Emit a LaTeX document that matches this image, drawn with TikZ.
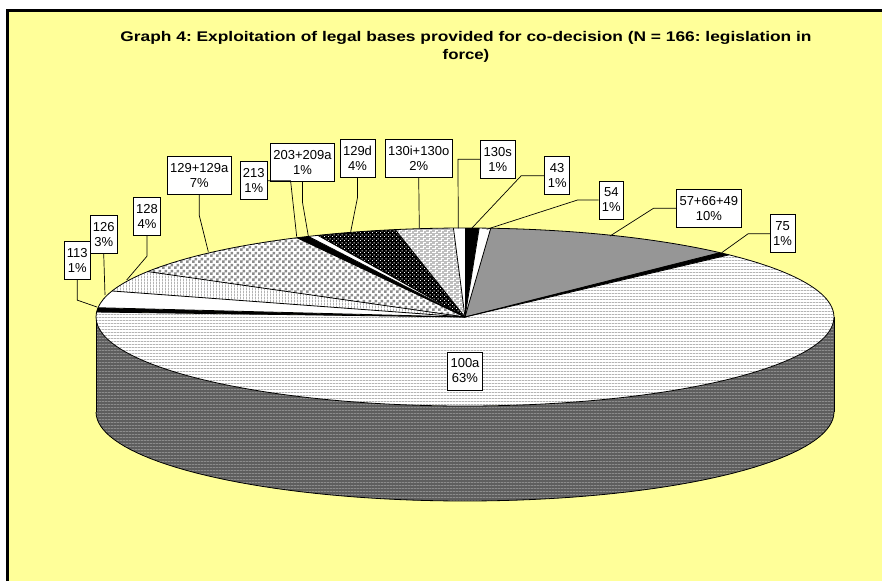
\documentclass[tikz,border=0pt]{standalone}
\usepackage{fontspec}
\setmainfont{Liberation Sans}
\usetikzlibrary{patterns}
\frenchspacing
\pgfdeclarepatternformonly{hstr}{\pgfpointorigin}{\pgfpoint{3pt}{3pt}}{\pgfpoint{3pt}{3pt}}{\pgfpathrectangle{\pgfpointorigin}{\pgfpoint{3pt}{1.2pt}}\pgfusepath{fill}}
\pgfdeclarepatternformonly{vstr}{\pgfpointorigin}{\pgfpoint{3pt}{3pt}}{\pgfpoint{3pt}{3pt}}{\pgfpathrectangle{\pgfpointorigin}{\pgfpoint{1.2pt}{3pt}}\pgfusepath{fill}}
\pgfdeclarepatternformonly{chk}{\pgfpointorigin}{\pgfpoint{6pt}{6pt}}{\pgfpoint{6pt}{6pt}}{\pgfpathrectangle{\pgfpointorigin}{\pgfpoint{3pt}{3pt}}\pgfpathrectangle{\pgfpoint{3pt}{3pt}}{\pgfpoint{3pt}{3pt}}\pgfusepath{fill}}
\pgfdeclarepatternformonly{dts}{\pgfpointorigin}{\pgfpoint{4pt}{4pt}}{\pgfpoint{4pt}{4pt}}{\pgfpathrectangle{\pgfpointorigin}{\pgfpoint{1.2pt}{1.2pt}}\pgfpathrectangle{\pgfpoint{2pt}{2pt}}{\pgfpoint{1.2pt}{1.2pt}}\pgfusepath{fill}}
\pgfdeclarepatternformonly{wave}{\pgfpoint{-1pt}{-1pt}}{\pgfpoint{7pt}{5pt}}{\pgfpoint{6pt}{4pt}}{\pgfsetlinewidth{0.8pt}\pgfpathmoveto{\pgfpoint{0pt}{1pt}}\pgfpathlineto{\pgfpoint{3pt}{1pt}}\pgfpathlineto{\pgfpoint{3pt}{3pt}}\pgfpathlineto{\pgfpoint{6pt}{3pt}}\pgfusepath{stroke}}
\definecolor{bgyellow}{HTML}{FFFF99}
\definecolor{slgray}{HTML}{969696}
\definecolor{sidebase}{HTML}{5E5E5E}
\definecolor{sidestr}{HTML}{8C8C8C}
\definecolor{topstr}{HTML}{B4B4B4}
\definecolor{chkgray}{HTML}{8C8C8C}
\definecolor{brickgray}{HTML}{BEBEBE}
\newcommand{\pslice}[3]{\path[#3] (465,317) -- plot[domain=#1:#2,samples=60,variable=\t] ({465+369*cos(\t)},{317+89*sin(\t)}) -- cycle;}
\begin{document}
\begin{tikzpicture}[x=1pt,y=-1pt,
  blk/.style={fill=black},
  wht/.style={fill=white},
  gry/.style={fill=slgray},
  hst/.style={fill=white, postaction={pattern=hstr, pattern color=topstr}},
  vst/.style={fill=white, postaction={pattern=vstr, pattern color=topstr}},
  chks/.style={fill=white, postaction={pattern=chk, pattern color=chkgray}},
  dots/.style={fill=black, postaction={pattern=dts, pattern color=white}},
  brick/.style={fill=brickgray, postaction={pattern=wave, pattern color=white}},
  edge/.style={draw=black, line width=0.8pt},
  ldr/.style={draw=black, line width=0.7pt},
  lbl/.style={draw=black, line width=0.7pt, fill=white, align=center,
    font=\fontsize{13}{15}\selectfont, inner xsep=3pt, inner ysep=0pt, minimum height=38pt}]
\useasboundingbox (0,0) rectangle (882,581);
\fill[white] (0,0) rectangle (882,581);
\fill[bgyellow] (6,9) rectangle (882,581);
\draw[line width=3pt] (7.5,581) -- (7.5,10.5) -- (882,10.5);
% title
\node[font=\bfseries\fontsize{14}{18}\selectfont, align=center] (title) at (466,47)
  {\scalebox{1.24}[1]{Graph 4: Exploitation of legal bases provided for co-decision (N = 166: legislation in}\\\scalebox{1.2}[1]{force)}};
% side wall
\path[fill=sidebase, postaction={pattern=hstr, pattern color=sidestr}]
  plot[domain=0:180,samples=80,variable=\t] ({465+369*cos(\t)},{317+89*sin(\t)})
  -- plot[domain=180:0,samples=80,variable=\t] ({465+369*cos(\t)},{412+89*sin(\t)}) -- cycle;
\draw[edge] plot[domain=0:180,samples=80,variable=\t] ({465+369*cos(\t)},{412+89*sin(\t)});
\draw[edge] (834,317) -- (834,412);
\draw[edge] (96,317) -- (96,412);
% slices
\pslice{-90}{-87.8}{blk}
\pslice{-87.8}{-86}{wht}
\pslice{-86}{-46.3}{gry}
\pslice{-46.3}{-44.3}{blk}
\pslice{-44.3}{183.2}{hst}
\pslice{183.2}{186}{blk}
\pslice{186}{197}{wht}
\pslice{197}{210.7}{vst}
\pslice{210.7}{242.9}{chks}
\pslice{242.9}{244.9}{blk}
\pslice{244.9}{246.5}{wht}
\pslice{246.5}{259.1}{dots}
\pslice{259.1}{268.2}{brick}
\pslice{268.2}{270}{wht}
\foreach \a in {-90,-87.8,-86,-46.3,-44.3,183.2,186,197,210.7,242.9,244.9,246.5,259.1,268.2}
  \draw[edge] (465,317) -- ({465+369*cos(\a)},{317+89*sin(\a)});
\draw[edge] (465,317) ellipse [x radius=369pt, y radius=89pt];
% leader end points
\coordinate (q113) at (97,307);
\coordinate (q126) at (105,295);
\coordinate (q128) at (126.7,280);
\coordinate (q129) at (208.3,251.7);
\coordinate (q213) at (296.7,236.7);
\coordinate (q203) at (308.3,236);
\coordinate (q129d) at (350.7,231.7);
\coordinate (q130io) at (419.3,228.3);
\coordinate (q130s) at (458.3,228.3);
\coordinate (q43) at (471.7,228.3);
\coordinate (q54) at (486.7,229.3);
\coordinate (q57) at (610,236);
\coordinate (q75) at (721.7,252.7);
% labels
\node[lbl] (l113) at (77.3,260.8) {113\\1\%};
\node[lbl] (l126) at (103.7,234.2) {126\\3\%};
\node[lbl] (l128) at (147,216.5) {128\\4\%};
\node[lbl] (l129) at (199.2,175.8) {129+129a\\7\%};
\node[lbl] (l213) at (253.7,180.8) {213\\1\%};
\node[lbl] (l203) at (302.5,162) {203+209a\\1\%};
\node[lbl] (l129d) at (357.5,158.3) {129d\\4\%};
\node[lbl] (l130io) at (418.7,158) {130i+130o\\2\%};
\node[lbl] (l130s) at (497.8,159.3) {130s\\1\%};
\node[lbl] (l43) at (557.2,175.8) {43\\1\%};
\node[lbl] (l54) at (611.3,200) {54\\1\%};
\node[lbl] (l57) at (708.8,208.3) {57+66+49\\10\%};
\node[lbl] (l75) at (782.5,233.8) {75\\1\%};
\node[lbl] (l100) at (465,371) {100a\\63\%};
% leaders
\draw[ldr] (l113.south) -- ++(0,20) -- (q113);
\draw[ldr] (l126.south) -- (q126);
\draw[ldr] (l128.south) -- ++(0,20.3) -- (q128);
\draw[ldr] (l129.south) -- ++(0,20) -- (q129);
\draw[ldr] (l213.east) -- ++(22.7,0) -- (q213);
\draw[ldr] (l203.south) -- ++(0,21) -- (q203);
\draw[ldr] (l129d.south) -- ++(0,20) -- (q129d);
\draw[ldr] (l130io.south) -- (q130io);
\draw[ldr] (l130s.west) -- ++(-22.4,0) -- (q130s);
\draw[ldr] (l43.west) -- ++(-23.3,0) -- (q43);
\draw[ldr] (l54.west) -- ++(-21,0) -- (q54);
\draw[ldr] (l57.west) -- ++(-22.7,0) -- (q57);
\draw[ldr] (l75.west) -- ++(-21.7,0) -- (q75);
\end{tikzpicture}
\end{document}
